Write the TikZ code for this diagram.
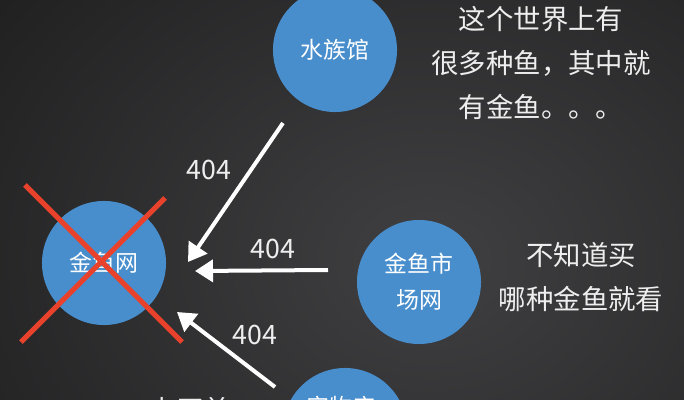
\documentclass[tikz,border=0pt]{standalone}
\usepackage{fontspec}
\setmainfont{Noto Sans CJK SC}
\usetikzlibrary{arrows.meta}
\definecolor{fishblue}{RGB}{72,142,204}
\definecolor{crossred}{RGB}{232,66,44}
\definecolor{bgcenter}{RGB}{64,64,66}
\definecolor{bgedge}{RGB}{6,6,6}
\definecolor{textgray}{RGB}{238,238,238}

\begin{document}
\begin{tikzpicture}[x=0.025cm,y=-0.025cm]
        \tikzstyle{site}=[circle,fill=fishblue,minimum size=3.1cm,inner sep=0pt,text=white,align=center,font=\fontsize{16.3}{25.5}\selectfont]
        \tikzstyle{note}=[text=textgray,align=center,inner sep=0pt,font=\fontsize{19.5}{31}\selectfont]
        \tikzstyle{code}=[text=textgray,inner sep=0pt,font=\fontsize{19}{22}\selectfont]
        \tikzstyle{deadlink}=[white,line width=0.1cm,-{Triangle[length=0.45cm,width=0.55cm]}]
        \tikzstyle{cross}=[crossred,line width=0.13cm]
        \clip (0,0) rectangle (684,400);
        \shade[inner color=bgcenter,outer color=bgedge] (-570,-540) rectangle (1430,1060);
        \node[site] (shuizu) at (335,50) {水族馆};
        \node[site] (jinyu) at (104,263) {金鱼网};
        \node[site] (shichang) at (419,282) {金鱼市\\场网};
        \node[site] (chongwu) at (345,430) {};
        \node[site] (chongwutext) at (341,407) [fill=none] {宠物店};
        \draw[cross] (25,185) -- (182,342);
        \draw[cross] (165,198) -- (21,342);
        \coordinate (from1) at (283,123);
        \coordinate (to1) at (188,262);
        \coordinate (from2) at (328,270);
        \coordinate (to2) at (195,271);
        \coordinate (from3) at (275,387);
        \coordinate (to3) at (177,312);
        \draw[deadlink] (from1) -- (to1);
        \draw[deadlink] (from2) -- (to2);
        \draw[deadlink] (from3) -- (to3);
        \node[code] (code1) at (209,170) {404};
        \node[code] (code2) at (273,249) {404};
        \node[code] (code3) at (255,335) {404};
        \node[note] (world) at (541,63) {这个世界上有\\很多种鱼，其中就\\有金鱼。。。};
        \node[note] (hint) at (581,277) {不知道买\\哪种金鱼就看};
        \node[note] (buy) at (190,410) {去买首};
\end{tikzpicture}
\end{document}
